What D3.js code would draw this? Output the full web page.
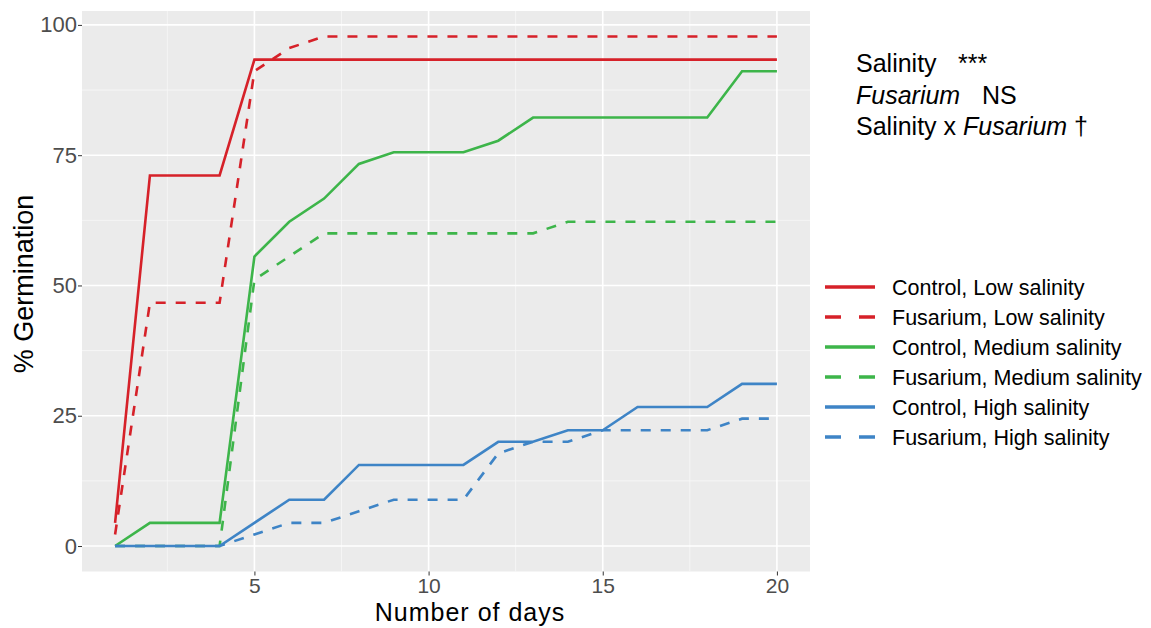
<!DOCTYPE html>
<html>
<head>
<meta charset="utf-8">
<script src="https://cdn.jsdelivr.net/npm/d3@7"></script>
<style>
  body { margin: 0; background: #fff; }
  svg { font-family: "Liberation Sans", Arial, Helvetica, sans-serif; }
</style>
</head>
<body>
<svg id="chart" width="1151" height="628"></svg>
<script>
const days = [1, 2, 3, 4, 5, 6, 7, 8, 9, 10, 11, 12, 13, 14, 15, 16, 17, 18, 19, 20];

const controlLow = [4.44, 71.11, 71.11, 71.11, 93.33, 93.33, 93.33, 93.33, 93.33, 93.33,
  93.33, 93.33, 93.33, 93.33, 93.33, 93.33, 93.33, 93.33, 93.33, 93.33];
const fusariumLow = [2.22, 46.67, 46.67, 46.67, 91.11, 95.56, 97.78, 97.78, 97.78, 97.78,
  97.78, 97.78, 97.78, 97.78, 97.78, 97.78, 97.78, 97.78, 97.78, 97.78];
const controlMedium = [0, 4.44, 4.44, 4.44, 55.56, 62.22, 66.67, 73.33, 75.56, 75.56,
  75.56, 77.78, 82.22, 82.22, 82.22, 82.22, 82.22, 82.22, 91.11, 91.11];
const fusariumMedium = [0, 0, 0, 0, 51.11, 55.56, 60, 60, 60, 60,
  60, 60, 60, 62.22, 62.22, 62.22, 62.22, 62.22, 62.22, 62.22];
const controlHigh = [0, 0, 0, 0, 4.44, 8.89, 8.89, 15.56, 15.56, 15.56,
  15.56, 20, 20, 22.22, 22.22, 26.67, 26.67, 26.67, 31.11, 31.11];
const fusariumHigh = [0, 0, 0, 0, 2.22, 4.44, 4.44, 6.67, 8.89, 8.89,
  8.89, 17.78, 20, 20, 22.22, 22.22, 22.22, 22.22, 24.44, 24.44];

const seriesNames = ['Control, Low salinity', 'Fusarium, Low salinity',
  'Control, Medium salinity', 'Fusarium, Medium salinity',
  'Control, High salinity', 'Fusarium, High salinity'];
const xTicks = [5, 10, 15, 20];
const yTicks = [0, 25, 50, 75, 100];

const red = '#d62129', green = '#3db54a', blue = '#3e84c6';
const series = [
  { name: seriesNames[0], values: controlLow, color: red, dashed: false },
  { name: seriesNames[1], values: fusariumLow, color: red, dashed: true },
  { name: seriesNames[2], values: controlMedium, color: green, dashed: false },
  { name: seriesNames[3], values: fusariumMedium, color: green, dashed: true },
  { name: seriesNames[4], values: controlHigh, color: blue, dashed: false },
  { name: seriesNames[5], values: fusariumHigh, color: blue, dashed: true }
];

const svg = d3.select('#chart');
const panelLeft = 82, panelRight = 810, panelTop = 11, panelBottom = 571.5;

// ggplot style 5% expansion
const x = d3.scaleLinear().domain([0.05, 20.95]).range([panelLeft, panelRight]);
const y = d3.scaleLinear().domain([-4.89, 102.67]).range([panelBottom, panelTop]);

// panel
svg.append('rect')
  .attr('x', panelLeft).attr('y', panelTop)
  .attr('width', panelRight - panelLeft).attr('height', panelBottom - panelTop)
  .attr('fill', '#ebebeb');

// minor grid
const grid = svg.append('g');
[2.5, 7.5, 12.5, 17.5].forEach(v => {
  grid.append('line').attr('x1', x(v)).attr('x2', x(v)).attr('y1', panelTop).attr('y2', panelBottom)
    .attr('stroke', '#f7f7f7').attr('stroke-width', 0.8);
});
[12.5, 37.5, 62.5, 87.5].forEach(v => {
  grid.append('line').attr('x1', panelLeft).attr('x2', panelRight).attr('y1', y(v)).attr('y2', y(v))
    .attr('stroke', '#f7f7f7').attr('stroke-width', 0.8);
});
// major grid
xTicks.forEach(v => {
  grid.append('line').attr('x1', x(v)).attr('x2', x(v)).attr('y1', panelTop).attr('y2', panelBottom)
    .attr('stroke', '#fff').attr('stroke-width', 1.6);
});
yTicks.forEach(v => {
  grid.append('line').attr('x1', panelLeft).attr('x2', panelRight).attr('y1', y(v)).attr('y2', y(v))
    .attr('stroke', '#fff').attr('stroke-width', 1.6);
});

// axes
const xAxis = svg.append('g')
  .attr('transform', `translate(0,${panelBottom})`)
  .call(d3.axisBottom(x).tickValues(xTicks).tickSize(4).tickPadding(3));
const yAxis = svg.append('g')
  .attr('transform', `translate(${panelLeft},0)`)
  .call(d3.axisLeft(y).tickValues(yTicks).tickSize(4).tickPadding(1));
[xAxis, yAxis].forEach(a => {
  a.select('.domain').remove();
  a.selectAll('.tick line').attr('stroke', '#333').attr('stroke-width', 1);
  a.selectAll('.tick text').attr('fill', '#4d4d4d');
});
xAxis.selectAll('.tick text').style('font-size', '21px');
yAxis.selectAll('.tick text').style('font-size', '22px');

// lines
const line = d3.line()
  .x((d, i) => x(days[i]))
  .y(d => y(d));

svg.append('g').selectAll('path')
  .data(series)
  .enter()
  .append('path')
  .attr('d', d => line(d.values))
  .attr('fill', 'none')
  .attr('stroke', d => d.color)
  .attr('stroke-width', 2.6)
  .attr('stroke-dasharray', d => d.dashed ? '10,10' : null);

// axis titles
svg.append('text')
  .attr('x', 470).attr('y', 621)
  .attr('text-anchor', 'middle')
  .style('font-size', '25px')
  .style('letter-spacing', '1px')
  .text('Number of days');

svg.append('text')
  .attr('transform', 'translate(33,284) rotate(-90)')
  .attr('text-anchor', 'middle')
  .style('font-size', '27px')
  .text('% Germination');

// stats annotation
const note = svg.append('g').style('font-size', '25px').attr('fill', '#000');
const l1 = note.append('text').attr('x', 856).attr('y', 72);
l1.append('tspan').text('Salinity');
l1.append('tspan').attr('x', 958).text('***');
const l2 = note.append('text').attr('x', 856).attr('y', 104);
l2.append('tspan').style('font-style', 'italic').text('Fusarium');
l2.append('tspan').attr('x', 982).text('NS');
const l3 = note.append('text').attr('x', 856).attr('y', 135).style('white-space', 'pre');
l3.append('tspan').text('Salinity x ');
l3.append('tspan').style('font-style', 'italic').text('Fusarium');
l3.append('tspan').text(' \u2020');

// legend
const legend = svg.append('g').attr('transform', 'translate(825,287)');
const rows = legend.selectAll('g')
  .data(series)
  .enter()
  .append('g')
  .attr('transform', (d, i) => `translate(0,${i * 30})`);
rows.append('line')
  .attr('x1', 0).attr('x2', 50).attr('y1', 0).attr('y2', 0)
  .attr('stroke', d => d.color)
  .attr('stroke-width', 3.6)
  .attr('stroke-dasharray', d => d.dashed ? '16,18' : null);
rows.append('text')
  .attr('x', 67).attr('dy', '0.35em')
  .style('font-size', '21.5px')
  .attr('fill', '#000')
  .text(d => d.name);
</script>
</body>
</html>
